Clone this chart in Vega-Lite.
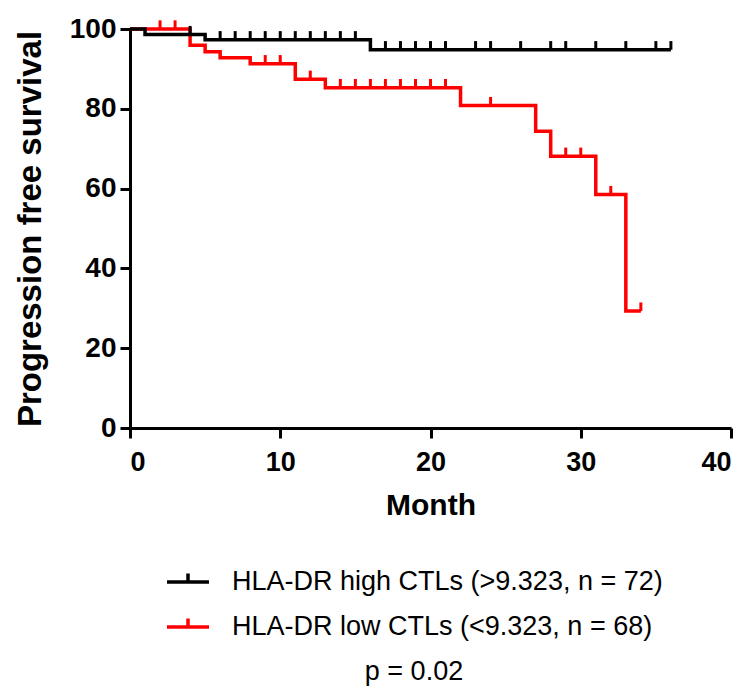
{
  "$schema": "https://vega.github.io/schema/vega-lite/v6.json",
  "autosize": "none",
  "width": 601,
  "height": 399,
  "padding": {"left": 130, "top": 29, "right": 24, "bottom": 269},
  "background": "white",
  "config": {
    "view": {"stroke": null},
    "font": "Liberation Sans",
    "axis": {
      "domainColor": "black",
      "domainWidth": 3,
      "tickColor": "black",
      "tickWidth": 3,
      "tickSize": 10,
      "grid": false,
      "labelFont": "Liberation Sans",
      "labelFontWeight": "bold",
      "labelFontSize": 27,
      "labelColor": "black",
      "titleFont": "Liberation Sans",
      "titleFontWeight": "bold",
      "titleColor": "black"
    }
  },
  "datasets": {
    "curves": [
      {"group": "HLA-DR high CTLs (>9.323, n = 72)", "month": 0, "surv": 100},
      {"group": "HLA-DR high CTLs (>9.323, n = 72)", "month": 1, "surv": 98.6},
      {"group": "HLA-DR high CTLs (>9.323, n = 72)", "month": 5, "surv": 97.3},
      {"group": "HLA-DR high CTLs (>9.323, n = 72)", "month": 16, "surv": 94.8},
      {"group": "HLA-DR high CTLs (>9.323, n = 72)", "month": 36, "surv": 94.8},
      {"group": "HLA-DR low CTLs (<9.323, n = 68)", "month": 0, "surv": 100},
      {"group": "HLA-DR low CTLs (<9.323, n = 68)", "month": 4, "surv": 95.9},
      {"group": "HLA-DR low CTLs (<9.323, n = 68)", "month": 5, "surv": 94.3},
      {"group": "HLA-DR low CTLs (<9.323, n = 68)", "month": 6, "surv": 92.8},
      {"group": "HLA-DR low CTLs (<9.323, n = 68)", "month": 8, "surv": 91.3},
      {"group": "HLA-DR low CTLs (<9.323, n = 68)", "month": 11, "surv": 87.4},
      {"group": "HLA-DR low CTLs (<9.323, n = 68)", "month": 13, "surv": 85.3},
      {"group": "HLA-DR low CTLs (<9.323, n = 68)", "month": 22, "surv": 80.8},
      {"group": "HLA-DR low CTLs (<9.323, n = 68)", "month": 27, "surv": 74.4},
      {"group": "HLA-DR low CTLs (<9.323, n = 68)", "month": 28, "surv": 68.1},
      {"group": "HLA-DR low CTLs (<9.323, n = 68)", "month": 31, "surv": 58.5},
      {"group": "HLA-DR low CTLs (<9.323, n = 68)", "month": 33, "surv": 29.3},
      {"group": "HLA-DR low CTLs (<9.323, n = 68)", "month": 34, "surv": 29.3}
    ],
    "censors": [
      {"group": "HLA-DR high CTLs (>9.323, n = 72)", "month": 4, "surv": 98.6},
      {"group": "HLA-DR high CTLs (>9.323, n = 72)", "month": 6, "surv": 97.3},
      {"group": "HLA-DR high CTLs (>9.323, n = 72)", "month": 7, "surv": 97.3},
      {"group": "HLA-DR high CTLs (>9.323, n = 72)", "month": 8, "surv": 97.3},
      {"group": "HLA-DR high CTLs (>9.323, n = 72)", "month": 9, "surv": 97.3},
      {"group": "HLA-DR high CTLs (>9.323, n = 72)", "month": 10, "surv": 97.3},
      {"group": "HLA-DR high CTLs (>9.323, n = 72)", "month": 11, "surv": 97.3},
      {"group": "HLA-DR high CTLs (>9.323, n = 72)", "month": 12, "surv": 97.3},
      {"group": "HLA-DR high CTLs (>9.323, n = 72)", "month": 13, "surv": 97.3},
      {"group": "HLA-DR high CTLs (>9.323, n = 72)", "month": 14, "surv": 97.3},
      {"group": "HLA-DR high CTLs (>9.323, n = 72)", "month": 15, "surv": 97.3},
      {"group": "HLA-DR high CTLs (>9.323, n = 72)", "month": 17, "surv": 94.8},
      {"group": "HLA-DR high CTLs (>9.323, n = 72)", "month": 18, "surv": 94.8},
      {"group": "HLA-DR high CTLs (>9.323, n = 72)", "month": 19, "surv": 94.8},
      {"group": "HLA-DR high CTLs (>9.323, n = 72)", "month": 20, "surv": 94.8},
      {"group": "HLA-DR high CTLs (>9.323, n = 72)", "month": 21, "surv": 94.8},
      {"group": "HLA-DR high CTLs (>9.323, n = 72)", "month": 23, "surv": 94.8},
      {"group": "HLA-DR high CTLs (>9.323, n = 72)", "month": 24, "surv": 94.8},
      {"group": "HLA-DR high CTLs (>9.323, n = 72)", "month": 26, "surv": 94.8},
      {"group": "HLA-DR high CTLs (>9.323, n = 72)", "month": 28, "surv": 94.8},
      {"group": "HLA-DR high CTLs (>9.323, n = 72)", "month": 29, "surv": 94.8},
      {"group": "HLA-DR high CTLs (>9.323, n = 72)", "month": 31, "surv": 94.8},
      {"group": "HLA-DR high CTLs (>9.323, n = 72)", "month": 33, "surv": 94.8},
      {"group": "HLA-DR high CTLs (>9.323, n = 72)", "month": 35, "surv": 94.8},
      {"group": "HLA-DR high CTLs (>9.323, n = 72)", "month": 36, "surv": 94.8},
      {"group": "HLA-DR low CTLs (<9.323, n = 68)", "month": 2, "surv": 100},
      {"group": "HLA-DR low CTLs (<9.323, n = 68)", "month": 3, "surv": 100},
      {"group": "HLA-DR low CTLs (<9.323, n = 68)", "month": 9, "surv": 91.3},
      {"group": "HLA-DR low CTLs (<9.323, n = 68)", "month": 10, "surv": 91.3},
      {"group": "HLA-DR low CTLs (<9.323, n = 68)", "month": 12, "surv": 87.4},
      {"group": "HLA-DR low CTLs (<9.323, n = 68)", "month": 14, "surv": 85.3},
      {"group": "HLA-DR low CTLs (<9.323, n = 68)", "month": 15, "surv": 85.3},
      {"group": "HLA-DR low CTLs (<9.323, n = 68)", "month": 16, "surv": 85.3},
      {"group": "HLA-DR low CTLs (<9.323, n = 68)", "month": 17, "surv": 85.3},
      {"group": "HLA-DR low CTLs (<9.323, n = 68)", "month": 18, "surv": 85.3},
      {"group": "HLA-DR low CTLs (<9.323, n = 68)", "month": 19, "surv": 85.3},
      {"group": "HLA-DR low CTLs (<9.323, n = 68)", "month": 20, "surv": 85.3},
      {"group": "HLA-DR low CTLs (<9.323, n = 68)", "month": 21, "surv": 85.3},
      {"group": "HLA-DR low CTLs (<9.323, n = 68)", "month": 24, "surv": 80.8},
      {"group": "HLA-DR low CTLs (<9.323, n = 68)", "month": 29, "surv": 68.1},
      {"group": "HLA-DR low CTLs (<9.323, n = 68)", "month": 30, "surv": 68.1},
      {"group": "HLA-DR low CTLs (<9.323, n = 68)", "month": 32, "surv": 58.5},
      {"group": "HLA-DR low CTLs (<9.323, n = 68)", "month": 34, "surv": 29.3}
    ]
  },
  "encoding": {
    "x": {
      "field": "month", "type": "quantitative",
      "scale": {"domain": [0, 40], "nice": false, "zero": true},
      "axis": {"values": [0, 10, 20, 30, 40], "title": "Month", "titleFontSize": 30, "titlePadding": 15, "labelPadding": 11}
    },
    "y": {
      "field": "surv", "type": "quantitative",
      "scale": {"domain": [0, 100], "nice": false},
      "axis": {"values": [0, 20, 40, 60, 80, 100], "title": "Progression free survival", "titleFontSize": 33, "titlePadding": 22, "labelPadding": 4, "labelFontSize": 28}
    },
    "color": {
      "field": "group", "type": "nominal",
      "scale": {
        "domain": ["HLA-DR high CTLs (>9.323, n = 72)", "HLA-DR low CTLs (<9.323, n = 68)"],
        "range": ["#000000", "#ff0000"]
      },
      "legend": {
        "orient": "none",
        "legendX": 35,
        "legendY": 530,
        "title": "p = 0.02",
        "titleOrient": "bottom",
        "titleAnchor": "middle",
        "titleBaseline": "top",
        "titlePadding": 19,
        "titleFont": "Liberation Sans",
        "titleFontSize": 27,
        "titleFontWeight": "normal",
        "titleColor": "black",
        "labelFont": "Liberation Sans",
        "labelFontSize": 27,
        "labelColor": "black",
        "labelOffset": 21,
        "labelLimit": 0,
        "symbolType": "M-1,0H1M0,0V-0.4",
        "symbolSize": 1764,
        "symbolStrokeWidth": 3.5,
        "symbolFillColor": "transparent",
        "rowPadding": 9,
        "padding": 0
      }
    }
  },
  "layer": [
    {
      "data": {"name": "curves"},
      "transform": [{"filter": "datum.group === 'HLA-DR low CTLs (<9.323, n = 68)'"}],
      "mark": {"type": "line", "interpolate": "step-after", "strokeWidth": 3.5}
    },
    {
      "data": {"name": "censors"},
      "transform": [{"filter": "datum.group === 'HLA-DR low CTLs (<9.323, n = 68)'"}],
      "mark": {"type": "point", "shape": "M0,0V-1", "size": 300, "filled": false, "strokeWidth": 3, "opacity": 1}
    },
    {
      "data": {"name": "curves"},
      "transform": [{"filter": "datum.group === 'HLA-DR high CTLs (>9.323, n = 72)'"}],
      "mark": {"type": "line", "interpolate": "step-after", "strokeWidth": 3.5}
    },
    {
      "data": {"name": "censors"},
      "transform": [{"filter": "datum.group === 'HLA-DR high CTLs (>9.323, n = 72)'"}],
      "mark": {"type": "point", "shape": "M0,0V-1", "size": 300, "filled": false, "strokeWidth": 3, "opacity": 1}
    }
  ]
}
